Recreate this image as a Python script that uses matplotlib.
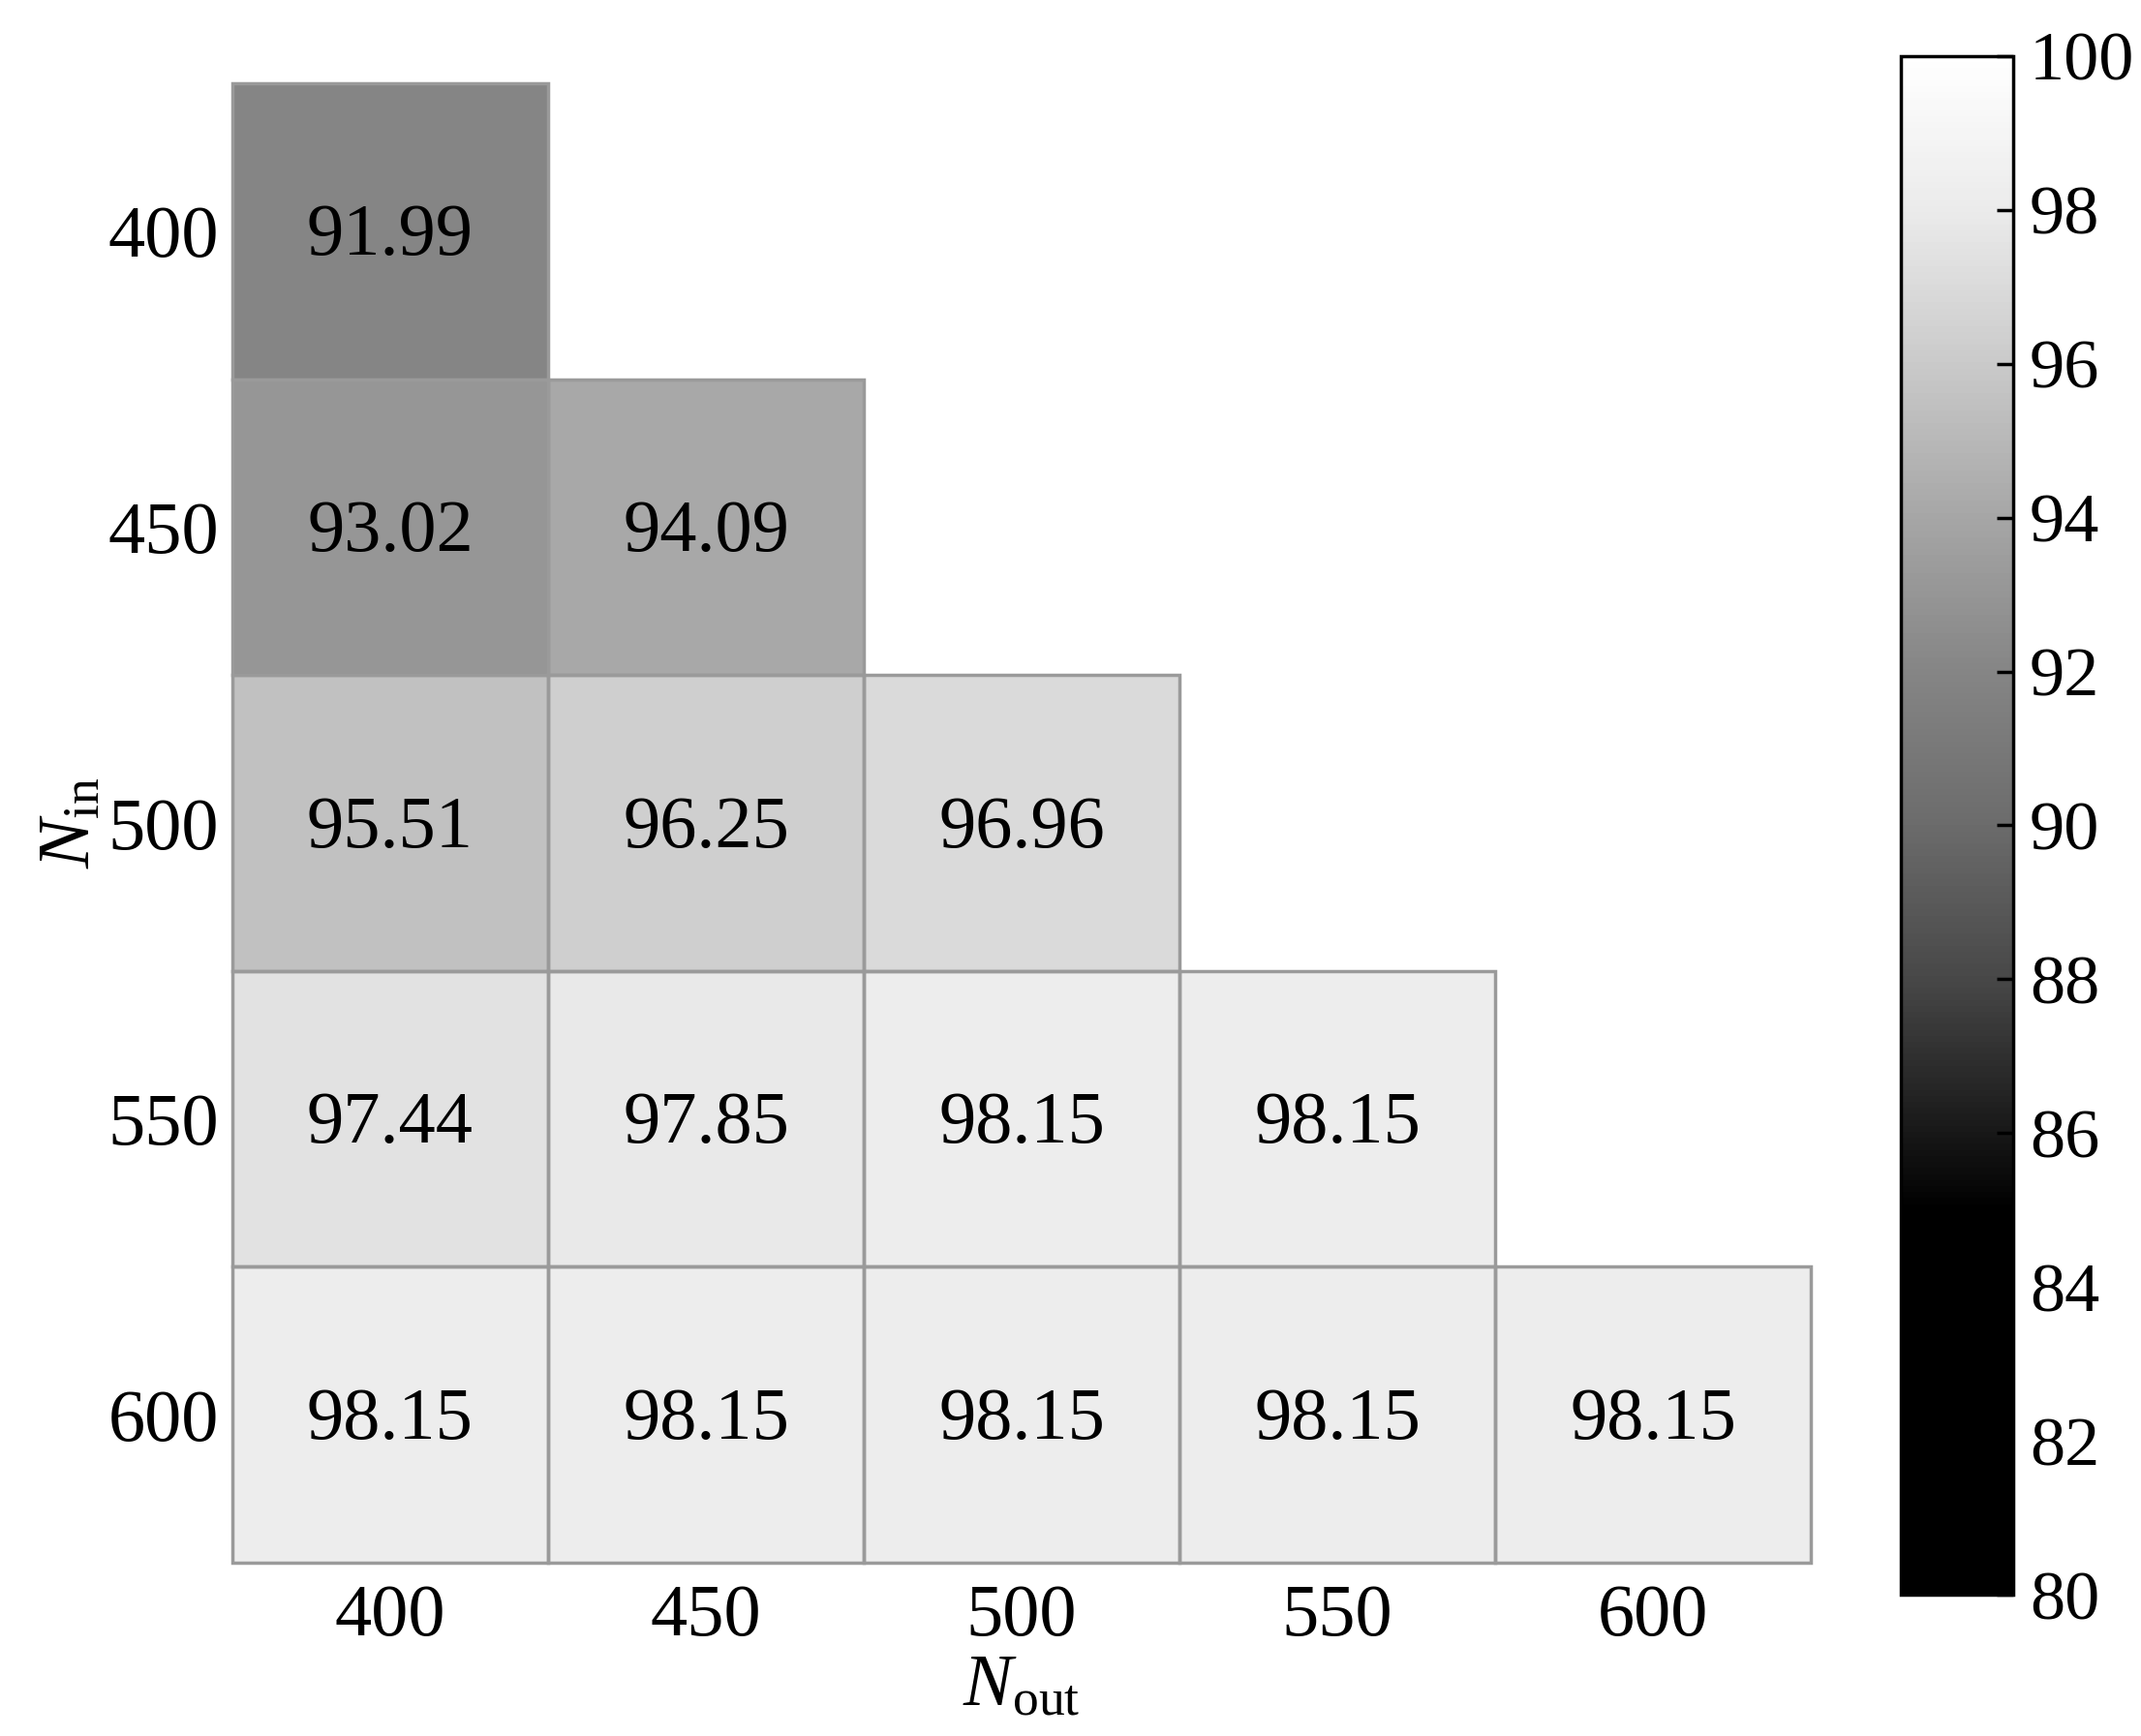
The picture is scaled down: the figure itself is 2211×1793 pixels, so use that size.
import numpy as np
import matplotlib
matplotlib.use("Agg")
import matplotlib.pyplot as plt
from matplotlib.colors import LinearSegmentedColormap
from matplotlib.patches import Rectangle

n_in = [400, 450, 500, 550, 600]
n_out = [400, 450, 500, 550, 600]
# accuracy (%), row = N_in, column = N_out; nan where N_out > N_in
acc = np.array([
    [91.99, np.nan, np.nan, np.nan, np.nan],
    [93.02, 94.09, np.nan, np.nan, np.nan],
    [95.51, 96.25, 96.96, np.nan, np.nan],
    [97.44, 97.85, 98.15, 98.15, np.nan],
    [98.15, 98.15, 98.15, 98.15, 98.15],
])
cbar_ticks = [80, 82, 84, 86, 88, 90, 92, 94, 96, 98, 100]

plt.rcParams['font.family'] = 'Liberation Serif'
plt.rcParams['mathtext.fontset'] = 'custom'
plt.rcParams['mathtext.rm'] = 'Liberation Serif'
plt.rcParams['mathtext.it'] = 'Liberation Serif:italic'

# grey map (black up to ~85, white at 100)
nodes = [(0.0, 0.0), (0.25, 0.0), (0.40, 0.28), (0.50, 0.42),
         (0.60, 0.52), (0.70, 0.65), (0.80, 0.79), (0.90, 0.92), (1.0, 1.0)]
cmap = LinearSegmentedColormap('grey_acc', {
    c: [(p, g, g) for p, g in nodes] for c in ('red', 'green', 'blue')})

fig = plt.figure(figsize=(22.11, 17.93), dpi=100)
ax = fig.add_axes([0.1085, 0.0998, 0.7373, 0.8522])
cax = fig.add_axes([0.888, 0.0814, 0.0525, 0.8863])

data = np.ma.masked_invalid(acc)
mesh = ax.pcolormesh(np.arange(len(n_out) + 1), np.arange(len(n_in) + 1), data,
                     cmap=cmap, vmin=80, vmax=100)
ax.set_xlim(0, len(n_out))
ax.set_ylim(len(n_in), 0)

for i in range(len(n_in)):
    for j in range(len(n_out)):
        if np.isnan(acc[i, j]):
            continue
        ax.add_patch(Rectangle((j, i), 1, 1, facecolor='none',
                               edgecolor='#9a9a9a', linewidth=2.5, clip_on=False))
        ax.text(j + 0.5, i + 0.52, f"{acc[i, j]:.2f}", ha='center', va='center',
                fontsize=55, color='black')

ax.set_xticks(np.arange(len(n_out)) + 0.5)
ax.set_xticklabels(n_out)
ax.set_yticks(np.arange(len(n_in)) + 0.5)
ax.set_yticklabels(n_in)
ax.tick_params(length=0, labelsize=55)
ax.tick_params(axis='x', pad=16)
ax.tick_params(axis='y', pad=10)
for s in ax.spines.values():
    s.set_visible(False)
ax.set_xlabel(r'$N_{\mathrm{out}}$', fontsize=55, labelpad=2)
ax.set_ylabel(r'$N_{\mathrm{in}}$', fontsize=55, labelpad=2)

cb = fig.colorbar(mesh, cax=cax, ticks=cbar_ticks)
cb.outline.set_linewidth(2.5)
cax.tick_params(direction='in', length=12, width=2.5, labelsize=52, pad=12)

fig.savefig('out.png', dpi=100, facecolor='white')
